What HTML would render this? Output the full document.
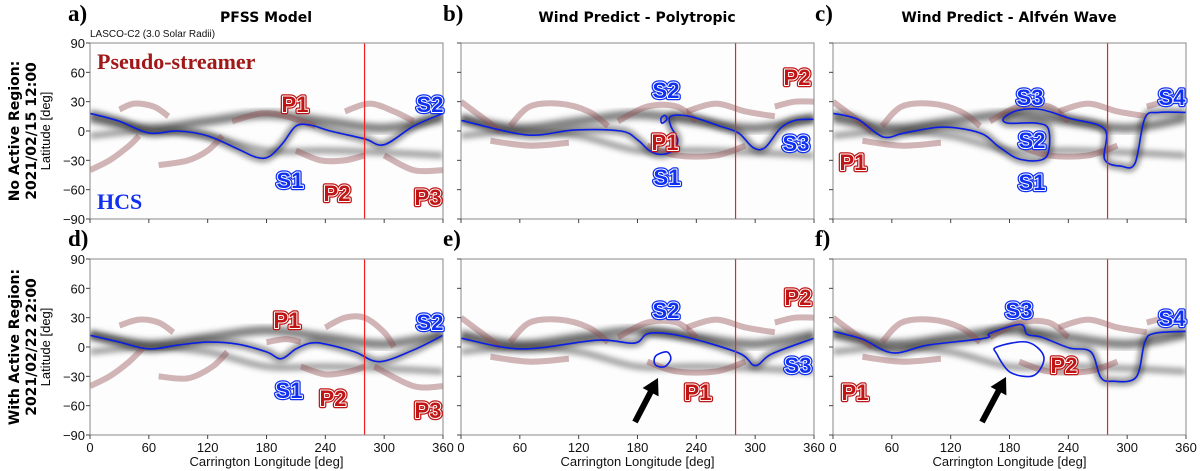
<!DOCTYPE html>
<html><head><meta charset="utf-8"><style>
body{margin:0;background:#fff;}
svg{display:block;font-family:"Liberation Sans",sans-serif;}
.lbl{font-weight:bold;font-size:22px;}
</style></head><body>
<svg id="fig" width="1200" height="471" viewBox="0 0 1200 471">
<defs>
<filter id="blur" x="-10%" y="-50%" width="120%" height="200%"><feGaussianBlur stdDeviation="3"/></filter>
<clipPath id="c0"><rect x="90" y="43" width="353" height="176"/></clipPath>
<clipPath id="c1"><rect x="461" y="43" width="353" height="176"/></clipPath>
<clipPath id="c2"><rect x="833" y="43" width="353" height="176"/></clipPath>
<clipPath id="c3"><rect x="90" y="259" width="353" height="176"/></clipPath>
<clipPath id="c4"><rect x="461" y="259" width="353" height="176"/></clipPath>
<clipPath id="c5"><rect x="833" y="259" width="353" height="176"/></clipPath>
</defs>
</svg>
<script>
const lonTicks=[0,60,120,180,240,300,360];
const latTicks=[90,60,30,0,-30,-60,-90];
const hcsA=[[0,18],[30,10],[60,-2],[90,0],[120,-5],[150,-18],[170,-27],[183,-26],[197,-12],[210,5],[225,6],[245,0],[280,-8],[300,-14],[330,5],[360,18]];
const hcsB=[[0,11],[67,-4],[115,1],[163,0],[180,-9],[192,-20],[204,-24],[216,-20],[221,-9],[214,5],[214,15],[233,15],[264,5],[283,-2],[298,-17],[310,-17],[326,3],[341,11],[360,12]];
const loopB=[[204,13],[208,16],[210,12],[205,8]];
const hcsC=[[0,18],[25,12],[51,-6],[73,-2],[112,4],[150,-2],[169,-16],[191,-29],[217,-27],[220,1],[208,8],[179,8],[174,13],[188,21],[212,22],[241,13],[277,2],[277,-29],[294,-36],[308,-33],[318,13],[332,19],[360,19]];
const hcsD=[[0,12],[30,5],[60,-2],[90,2],[120,5],[150,3],[180,-5],[195,-12],[210,-2],[225,4],[240,3],[270,-5],[295,-15],[330,-3],[360,12]];
const hcsE=[[0,9],[62,-2],[139,7],[177,4],[192,14],[226,11],[283,-6],[300,-19],[317,-7],[360,9]];
const loopE=[[200,-8],[210,-5],[214,-12],[208,-20],[199,-19],[197,-13]];
const hcsF=[[0,16],[30,8],[61,-6],[97,2],[155,9],[160,14],[191,23],[198,13],[213,10],[241,-1],[263,-5],[273,-31],[285,-35],[309,-31],[318,5],[328,14],[360,16]];
const loopF=[[167,0],[198,5],[215,-10],[205,-29],[181,-26],[167,-7]];
const psA=[[[0,-40],[20,-30],[40,-15],[50,-5]],[[30,22],[45,28],[65,25],[80,15]],[[70,-35],[100,-30],[120,-20],[135,-5]],[[145,10],[175,18],[200,15],[230,5]],[[210,-20],[235,-30],[260,-30],[280,-25]],[[260,20],[285,28],[310,20],[330,10]],[[300,-25],[330,-40],[360,-40]]];
const psB=[[[0,30],[20,15],[40,0]],[[50,5],[70,25],[100,28],[130,20],[150,5]],[[30,-10],[70,-15],[110,-12]],[[160,10],[190,25],[220,25],[240,10]],[[190,-15],[220,-25],[260,-25],[290,-15]],[[230,20],[260,28],[290,20],[320,15]],[[320,25],[340,30],[360,30]]];
const psD=[[[0,-40],[20,-30],[40,-15],[55,0]],[[30,22],[50,28],[70,25],[85,15]],[[70,-30],[100,-32],[125,-20],[140,-5]],[[180,5],[200,8],[215,5]],[[215,-20],[240,-28],[265,-25],[280,-20]],[[240,20],[260,30],[280,30],[300,15],[310,0]],[[290,-20],[330,-40],[360,-40]]];
const psList=[psA,psB,psB,psD,psB,psB];
const hcsList=[hcsA,hcsB,hcsC,hcsD,hcsE,hcsF];
const loopList=[null,loopB,null,null,loopE,loopF];
const ridgeHi=[[0,13],[60,3],[120,10],[180,17],[240,10],[300,3],[360,13]];
const ridgeLo=[[0,-5],[60,0],[120,-5],[180,-20],[240,-20],[300,-22],[360,-25]];

const NS='http://www.w3.org/2000/svg';
const svg=document.getElementById('fig');
const PX=[90,461,833], PY=[43,259], W=353, H=176;
function el(t,a,p){const e=document.createElementNS(NS,t);for(const k in a)e.setAttribute(k,a[k]);(p||svg).appendChild(e);return e;}
function xs(i,lon){return PX[i%3]+lon/360*W;}
function ys(i,lat){return PY[Math.floor(i/3)]+(90-lat)/180*H;}
function smooth(pts,i,closed){
  const P=pts.map(p=>[xs(i,p[0]),ys(i,p[1])]);
  const n=P.length;let d='M'+P[0][0]+','+P[0][1];
  const g=k=>closed?P[(k+n)%n]:P[Math.max(0,Math.min(n-1,k))];
  const m=closed?n:n-1;
  for(let k=0;k<m;k++){const p0=g(k-1),p1=g(k),p2=g(k+1),p3=g(k+2);
    d+=` C${p1[0]+(p2[0]-p0[0])/6},${p1[1]+(p2[1]-p0[1])/6} ${p2[0]-(p3[0]-p1[0])/6},${p2[1]-(p3[1]-p1[1])/6} ${p2[0]},${p2[1]}`;}
  return d+(closed?'Z':'');
}
for(let i=0;i<6;i++){
  const g=el('g',{'clip-path':`url(#c${i})`});
  
  
  el('rect',{x:PX[i%3],y:PY[Math.floor(i/3)],width:W,height:H,fill:'#fdfdfd'},g);
  const r1=el('path',{d:smooth(ridgeHi,i),fill:'none',stroke:'#333',"stroke-width":9,opacity:0.6,filter:'url(#blur)'},g);
  
  
  const r2=el('path',{d:smooth(ridgeLo,i),fill:'none',stroke:'#444',"stroke-width":6,opacity:0.55,filter:'url(#blur)'},g);
  
  
  const r3=el('path',{d:smooth(hcsList[i],i),fill:'none',stroke:'#111',"stroke-width":7,opacity:0.5,filter:'url(#blur)'},g);
  
  
  psList[i].forEach(b=>{
    const p=el('path',{d:smooth(b,i),fill:'none',stroke:'rgb(140,70,75)',"stroke-width":6,opacity:0.4},g);
    
    
  });
  const h=el('path',{d:smooth(hcsList[i],i),fill:'none',stroke:'#0a1ee6',"stroke-width":1.6},g);
  
  
  if(loopList[i]){const l=el('path',{d:smooth(loopList[i],i,true),fill:'none',stroke:'#0a1ee6',"stroke-width":1.6},g);
    
    }
  const v=el('line',{x1:xs(i,280),x2:xs(i,280),y1:PY[Math.floor(i/3)],y2:PY[Math.floor(i/3)]+H,stroke:'#ee2222',"stroke-width":1.2},g);
  
  
  const fr=el('rect',{x:PX[i%3],y:PY[Math.floor(i/3)],width:W,height:H,fill:'none',stroke:'#888',"stroke-width":1});
  
  
  const row=Math.floor(i/3),y0=PY[row];
  lonTicks.forEach(t=>{el('line',{x1:xs(i,t),x2:xs(i,t),y1:y0+H,y2:y0+H+4,stroke:'#444'});
    if(row==1){const tx=el('text',{x:xs(i,t),y:y0+H+17,"text-anchor":'middle',"font-size":13,fill:'#111'});tx.textContent=t;
      
      }});
  latTicks.forEach(t=>{el('line',{x1:PX[i%3]-4,x2:PX[i%3],y1:ys(i,t),y2:ys(i,t),stroke:'#444'});
    if(i%3==0){const tx=el('text',{x:PX[0]-5,y:ys(i,t)+5,"text-anchor":'end',"font-size":13,fill:'#111'});tx.textContent=t<0?'\u2212'+(-t):t;
      
      }});
  if(row==1){const xl=el('text',{x:PX[i%3]+W/2,y:466,"text-anchor":'middle',"font-size":13,fill:'#111'});xl.textContent='Carrington Longitude [deg]';
    
    }
}
const labels=[
 ['P1',295,104,'#c01515'],['S2',430,104,'#1030f0'],['S1',290,180,'#1030f0'],['P2',337,193,'#c01515'],['P3',428,197,'#c01515'],
 ['S2',666,90,'#1030f0'],['P2',797,77,'#c01515'],['P1',665,142,'#c01515'],['S3',796,143,'#1030f0'],['S1',667,177,'#1030f0'],
 ['S3',1030,97,'#1030f0'],['S4',1172,97,'#1030f0'],['S2',1032,140,'#1030f0'],['P1',853,162,'#c01515'],['S1',1032,182,'#1030f0'],
 ['P1',287,320,'#c01515'],['S2',430,322,'#1030f0'],['S1',289,390,'#1030f0'],['P2',333,398,'#c01515'],['P3',428,410,'#c01515'],
 ['S2',666,310,'#1030f0'],['P2',798,297,'#c01515'],['S3',798,365,'#1030f0'],['P1',698,392,'#c01515'],
 ['S3',1019,310,'#1030f0'],['S4',1172,318,'#1030f0'],['P2',1064,365,'#c01515'],['P1',855,392,'#c01515']];
labels.forEach(([t,x,y,c])=>{
  const b=el('text',{x,y:y+8,"text-anchor":'middle',class:'lbl',fill:c,stroke:c,"stroke-width":4.5,"stroke-linejoin":'round'});b.textContent=t;
  
  
  const w=el('text',{x,y:y+8,"text-anchor":'middle',class:'lbl',fill:c,stroke:'#fff',"stroke-width":2,"stroke-linejoin":'round'});w.textContent=t;
  
  
  const f=el('text',{x,y:y+8,"text-anchor":'middle',class:'lbl',fill:c});f.textContent=t;
  
  
});
[[635,422,658,378],[982,422,1006,377]].forEach(([x1,y1,x2,y2])=>{
  const a=el('line',{x1,y1,x2:x2-(x2-x1)*0.25,y2:y2-(y2-y1)*0.25,stroke:'#000',"stroke-width":6});
  
  
  const ang=Math.atan2(y2-y1,x2-x1),L=16,Wd=9;
  const bx=x2-L*Math.cos(ang),by=y2-L*Math.sin(ang);
  const hd=el('polygon',{points:`${x2},${y2} ${bx+Wd*Math.sin(ang)},${by-Wd*Math.cos(ang)} ${bx-Wd*Math.sin(ang)},${by+Wd*Math.cos(ang)}`,fill:'#000'});
  
  
});
</script>
<svg width="1200" height="471" style="position:absolute;left:0;top:0">
<g font-family="Liberation Serif, serif" font-weight="bold" font-size="23">
<text x="68" y="21">a)</text>
<text x="443" y="21">b)</text>
<text x="815" y="21">c)</text>
<text x="68" y="246">d)</text>
<text x="443" y="246">e)</text>
<text x="815" y="246">f)</text>
</g>
<g font-family="DejaVu Sans, sans-serif" font-weight="bold" font-size="14" text-anchor="middle">
<text x="266" y="22">PFSS Model</text>
<text x="637" y="22">Wind Predict - Polytropic</text>
<text x="1009" y="22">Wind Predict - Alfvén Wave</text>
</g>
<text x="90" y="37" font-size="10" fill="#111">LASCO-C2 (3.0 Solar Radii)</text>
<text x="97" y="69" font-family="Liberation Serif, serif" font-weight="bold" font-size="22" fill="#a01818">Pseudo-streamer</text>
<text x="97" y="209" font-family="Liberation Serif, serif" font-weight="bold" font-size="22" fill="#1030f0">HCS</text>
<g font-family="DejaVu Sans, sans-serif" font-weight="bold" font-size="14" text-anchor="middle">
<text transform="translate(19,131) rotate(-90)">No Active Region:</text>
<text transform="translate(36,131) rotate(-90)">2021/02/15 12:00</text>
<text transform="translate(19,347) rotate(-90)">With Active Region:</text>
<text transform="translate(36,347) rotate(-90)">2021/02/22 22:00</text>
</g>
<text transform="translate(50,131) rotate(-90)" text-anchor="middle" font-size="13">Latitude [deg]</text>
<text transform="translate(50,347) rotate(-90)" text-anchor="middle" font-size="13">Latitude [deg]</text>
</svg>
</body></html>
